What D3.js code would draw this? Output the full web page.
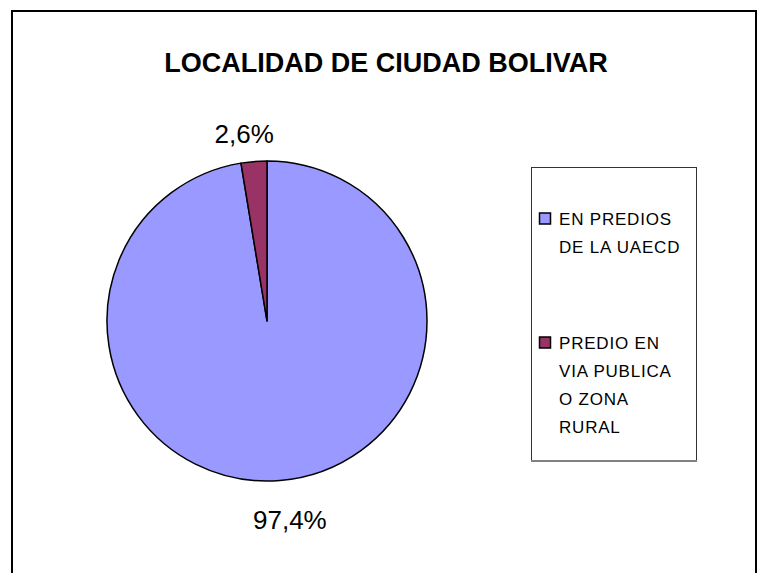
<!DOCTYPE html>
<html>
<head>
<meta charset="utf-8">
<script src="https://cdnjs.cloudflare.com/ajax/libs/d3/7.8.5/d3.min.js"></script>
<style>
  body { margin: 0; background: #fff; }
  text { font-family: "Liberation Sans", Arial, sans-serif; }
</style>
</head>
<body>
<script>
var w = 760;
var h = 573;

var title = "LOCALIDAD DE CIUDAD BOLIVAR";
var categories = ["EN PREDIOS DE LA UAECD", "PREDIO EN VIA PUBLICA O ZONA RURAL"];
var legendLines = [["EN PREDIOS", "DE LA UAECD"], ["PREDIO EN", "VIA PUBLICA", "O ZONA", "RURAL"]];
var values = [97.4, 2.6];
var labels = ["97,4%", "2,6%"];
var colors = ["#9999FF", "#993366"];

var cx = 267, cy = 321, r = 160;
// labels sit on an ellipse around the pie, like the excel layout
var labelRx = 280;
var labelRy = [200, 188];

var svg = d3.select("body")
  .append("svg")
  .attr("width", w)
  .attr("height", h);

// outer chart border (bottom edge falls outside the picture)
svg.append("rect")
  .attr("x", 12)
  .attr("y", 11)
  .attr("width", 744)
  .attr("height", 580)
  .attr("fill", "none")
  .attr("stroke", "#000")
  .attr("stroke-width", 2);

svg.append("text")
  .attr("x", 386)
  .attr("y", 72)
  .attr("text-anchor", "middle")
  .attr("font-size", 27)
  .attr("font-weight", "bold")
  .text(title);

var pie = d3.pie().sort(null).value(function(d) { return d; });
var arcs = pie(values);

var arc = d3.arc().innerRadius(0).outerRadius(r);

var g = svg.append("g").attr("transform", "translate(" + cx + "," + cy + ")");

g.selectAll(".slice")
  .data(arcs)
  .enter()
  .append("path")
  .attr("class", "slice")
  .attr("d", arc)
  .attr("fill", function(d, i) { return colors[i]; })
  .attr("stroke", "#000")
  .attr("stroke-width", 1.5)
  .attr("stroke-linejoin", "round");

function midAngle(d) { return (d.startAngle + d.endAngle) / 2; }

g.selectAll(".lbl")
  .data(arcs)
  .enter()
  .append("text")
  .attr("class", "lbl")
  .attr("x", function(d) { return Math.sin(midAngle(d)) * labelRx; })
  .attr("y", function(d, i) { return -Math.cos(midAngle(d)) * labelRy[i]; })
  .attr("dy", "0.35em")
  .attr("text-anchor", "middle")
  .attr("font-size", 26)
  .text(function(d, i) { return labels[i]; });

// legend
var lg = svg.append("g");
lg.append("rect")
  .attr("x", 531.5)
  .attr("y", 167.5)
  .attr("width", 165)
  .attr("height", 293)
  .attr("fill", "#fff")
  .attr("stroke", "#333")
  .attr("stroke-width", 1);
lg.append("line")
  .attr("x1", 531).attr("x2", 697)
  .attr("y1", 461).attr("y2", 461)
  .attr("stroke", "#808080")
  .attr("stroke-width", 2);

var entryY = [225, 349];
var item = lg.selectAll(".item")
  .data(categories)
  .enter()
  .append("g")
  .attr("class", "item");

item.append("rect")
  .attr("x", 539.5)
  .attr("y", function(d, i) { return entryY[i] - 12; })
  .attr("width", 11)
  .attr("height", 11)
  .attr("fill", function(d, i) { return colors[i]; })
  .attr("stroke", "#000")
  .attr("stroke-width", 1.5);

item.append("text")
  .attr("font-size", 17)
  .attr("letter-spacing", 0.8)
  .attr("y", function(d, i) { return entryY[i]; })
  .selectAll("tspan")
  .data(function(d, i) { return legendLines[i]; })
  .enter()
  .append("tspan")
  .attr("x", 559)
  .attr("dy", function(d, j) { return j === 0 ? 0 : 28; })
  .text(function(d) { return d; });
</script>
</body>
</html>
